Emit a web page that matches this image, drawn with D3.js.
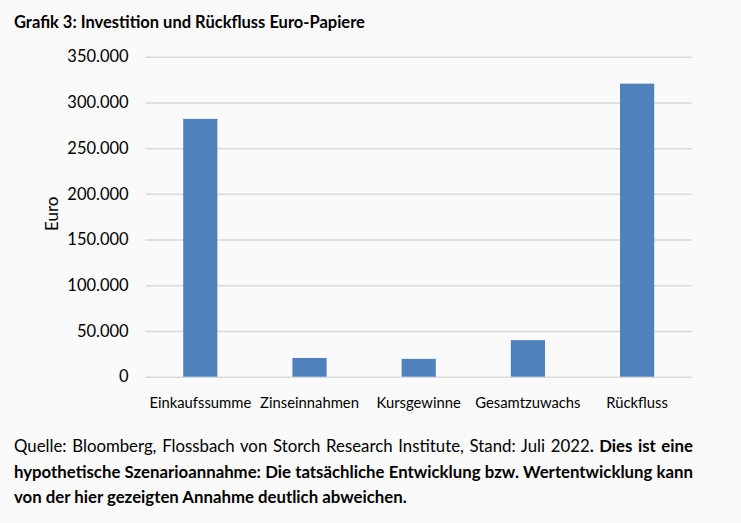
<!DOCTYPE html>
<html>
<head>
<meta charset="utf-8">
<script src="https://cdn.jsdelivr.net/npm/d3@7"></script>
<style>
  body { margin: 0; background: #fafafa; }
  svg { display: block; }
</style>
</head>
<body>
<div id="chart"></div>
<script>
const categories = ["Einkaufssumme", "Zinseinnahmen", "Kursgewinne", "Gesamtzuwachs", "Rückfluss"]
const values = [282000, 20500, 19500, 40000, 320500]
const yTicks = [0, 50000, 100000, 150000, 200000, 250000, 300000, 350000]
const title = "Grafik 3: Investition und Rückfluss Euro-Papiere"
const yTitle = "Euro"
const footer = [
  [{ t: "Quelle: Bloomberg, Flossbach von Storch Research Institute, Stand: Juli 2022", b: false }, { t: ". Dies ist eine", b: true }],
  [{ t: "hypothetische Szenarioannahme: Die tatsächliche Entwicklung bzw. Wertentwicklung kann", b: true }],
  [{ t: "von der hier gezeigten Annahme deutlich abweichen.", b: true }]
]

const W = 741, H = 523
const MARGIN = { TOP: 56.7, LEFT: 145.7, RIGHT: 49.3, BOTTOM: 146.3 }
const WIDTH = W - MARGIN.LEFT - MARGIN.RIGHT
const HEIGHT = H - MARGIN.TOP - MARGIN.BOTTOM
const FONT = "Lato, 'Open Sans', sans-serif"

const de = d3.formatLocale({ decimal: ",", thousands: ".", grouping: [3], currency: ["", " €"] })
const fmt = de.format(",.0f")

const svg = d3.select("#chart").append("svg")
    .attr("width", W)
    .attr("height", H)
    .style("font-family", FONT)

svg.append("rect")
    .attr("width", W)
    .attr("height", H)
    .attr("fill", "#fafafa")

svg.append("text")
    .attr("x", 14)
    .attr("y", 28)
    .attr("font-size", "16.5px")
    .attr("font-weight", "bold")
    .attr("fill", "#000")
    .text(title)

const g = svg.append("g")
    .attr("transform", `translate(${MARGIN.LEFT}, ${MARGIN.TOP})`)

const y = d3.scaleLinear()
    .domain([0, 350000])
    .range([HEIGHT, 0])

const x = d3.scaleBand()
    .domain(categories)
    .range([0, WIDTH])
    .paddingInner(0.687)
    .paddingOuter(0.3435)

// grid + y labels
const yAxis = d3.axisLeft(y)
    .tickValues(yTicks)
    .tickFormat(d => fmt(d))
    .tickSize(-WIDTH)
    .tickPadding(17)

const yAxisGroup = g.append("g").call(yAxis)
yAxisGroup.select(".domain").remove()
yAxisGroup.selectAll(".tick line")
    .attr("stroke", "#d9d9d9")
    .attr("stroke-width", 1.5)
yAxisGroup.selectAll(".tick text")
    .attr("font-family", FONT)
    .attr("font-size", "16.5px")
    .attr("fill", "#000")

// bars
g.selectAll("rect.bar")
    .data(values)
    .enter().append("rect")
        .attr("class", "bar")
        .attr("x", (d, i) => x(categories[i]))
        .attr("y", d => y(d))
        .attr("width", x.bandwidth())
        .attr("height", d => y(0) - y(d))
        .attr("fill", "#4f81bd")

// x labels
const xAxis = d3.axisBottom(x).tickSize(0).tickPadding(21)
const xAxisGroup = g.append("g")
    .attr("transform", `translate(0, ${HEIGHT})`)
    .call(xAxis)
xAxisGroup.select(".domain").remove()
xAxisGroup.selectAll(".tick text")
    .attr("font-family", FONT)
    .attr("font-size", "14.8px")
    .attr("fill", "#000")

// y title
svg.append("text")
    .attr("transform", `translate(58, ${MARGIN.TOP + HEIGHT / 2 - 3}) rotate(-90)`)
    .attr("text-anchor", "middle")
    .attr("font-size", "17px")
    .attr("fill", "#000")
    .text(yTitle)

// footer, justified except the last line
const FOOT_X = 14, FOOT_R = 693
const footY = [452, 478, 503]
footer.forEach((line, li) => {
    const t = svg.append("text")
        .attr("x", FOOT_X)
        .attr("y", footY[li])
        .attr("font-size", "16.8px")
        .attr("fill", "#000")
    line.forEach(part => {
        t.append("tspan")
            .attr("font-weight", part.b ? "bold" : "normal")
            .text(part.t)
    })
    if (li < footer.length - 1) {
        const natural = t.node().getComputedTextLength()
        const spaces = line.map(p => p.t).join("").split(" ").length - 1
        t.attr("word-spacing", Math.max(0, (FOOT_R - FOOT_X - natural) / spaces))
    }
})
</script>
</body>
</html>
